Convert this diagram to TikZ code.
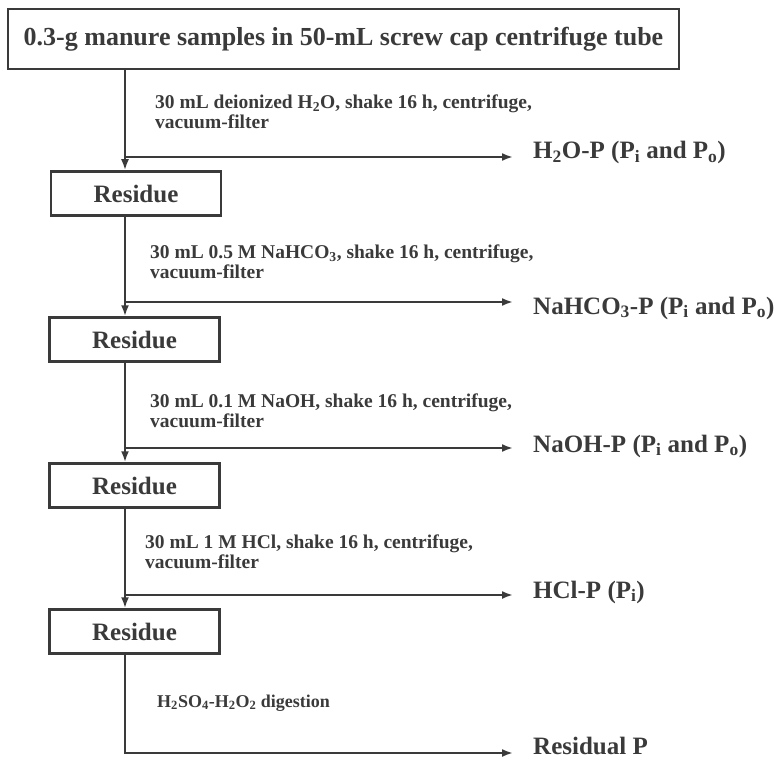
\documentclass[tikz,border=0pt]{standalone}
\usepackage{fontspec}
\setmainfont{Liberation Serif}
\usetikzlibrary{arrows.meta}
\definecolor{ink}{HTML}{3A3A3A}
\newcommand{\sbs}[1]{\textsubscript{#1}}
\begin{document}
\begin{tikzpicture}[x=1pt,y=-1pt,
  every node/.style={text=ink, font=\bfseries},
  boxstyle/.style={draw=ink, line width=2.5pt, inner sep=0pt},
  resbox/.style={boxstyle, minimum width=170pt, minimum height=44pt, font=\bfseries\fontsize{25}{28}\selectfont},
  conn/.style={draw=ink, line width=2pt},
  arr/.style={conn, -{Latex[length=11pt,width=8pt]}},
  steplabel/.style={anchor=north west, inner sep=0pt, align=left, font=\bfseries\fontsize{19.5}{20}\selectfont},
  outlabel/.style={anchor=base west, inner xsep=20pt, inner ysep=0pt, font=\bfseries\fontsize{25}{28}\selectfont}]
\useasboundingbox (0,0) rectangle (781,759);

% boxes
\node[boxstyle, minimum width=671pt, minimum height=60pt, font=\bfseries\fontsize{26}{30}\selectfont] (top) at (343.5,39) {0.3-g manure samples in 50-mL screw cap centrifuge tube};
\node[resbox] (r1) at (136,193.5) {Residue};
\node[resbox] (r2) at (134.5,339.5) {Residue};
\node[resbox] (r3) at (134.5,485.5) {Residue};
\node[resbox] (r4) at (134.5,631.5) {Residue};

% vertical axis and junctions
\coordinate (vx) at (125,0);
\coordinate (j1) at (125,157);
\coordinate (j2) at (125,302);
\coordinate (j3) at (125,448);
\coordinate (j4) at (125,595);
\coordinate (j5) at (125,753);

% output labels
\node[outlabel] (o1) at (513,159) {H\sbs{2}O-P (P\sbs{i} and P\sbs{o})};
\node[outlabel] (o2) at (513,314) {NaHCO\sbs{3}-P (P\sbs{i} and P\sbs{o})};
\node[outlabel] (o3) at (513,452) {NaOH-P (P\sbs{i} and P\sbs{o})};
\node[outlabel] (o4) at (513,598) {HCl-P (P\sbs{i})};
\node[outlabel] (o5) at (513,754) {Residual P};

% step labels
\node[steplabel] (s1) at (155,94.5) {30 mL deionized H\sbs{2}O, shake 16 h, centrifuge,\\vacuum-filter};
\node[steplabel] (s2) at (150,244.5) {30 mL 0.5 M NaHCO\sbs{3}, shake 16 h, centrifuge,\\vacuum-filter};
\node[steplabel] (s3) at (150,393.5) {30 mL 0.1 M NaOH, shake 16 h, centrifuge,\\vacuum-filter};
\node[steplabel] (s4) at (145,534.5) {30 mL 1 M HCl, shake 16 h, centrifuge,\\vacuum-filter};
\node[anchor=base west, inner sep=0pt, font=\bfseries\fontsize{18}{20}\selectfont] (s5) at (157,707) {H\sbs{2}SO\sbs{4}-H\sbs{2}O\sbs{2} digestion};

% connectors
\draw[arr] (top.south -| vx) -- (r1.north -| vx);
\draw[arr] (r1.south -| vx) -- (r2.north -| vx);
\draw[arr] (r2.south -| vx) -- (r3.north -| vx);
\draw[arr] (r3.south -| vx) -- (r4.north -| vx);
\draw[arr] (r4.south -| vx) -- (j5) -- (j5 -| o5.west);

\draw[arr] (j1) -- (j1 -| o1.west);
\draw[arr] (j2) -- (j2 -| o2.west);
\draw[arr] (j3) -- (j3 -| o3.west);
\draw[arr] (j4) -- (j4 -| o4.west);
\end{tikzpicture}
\end{document}
